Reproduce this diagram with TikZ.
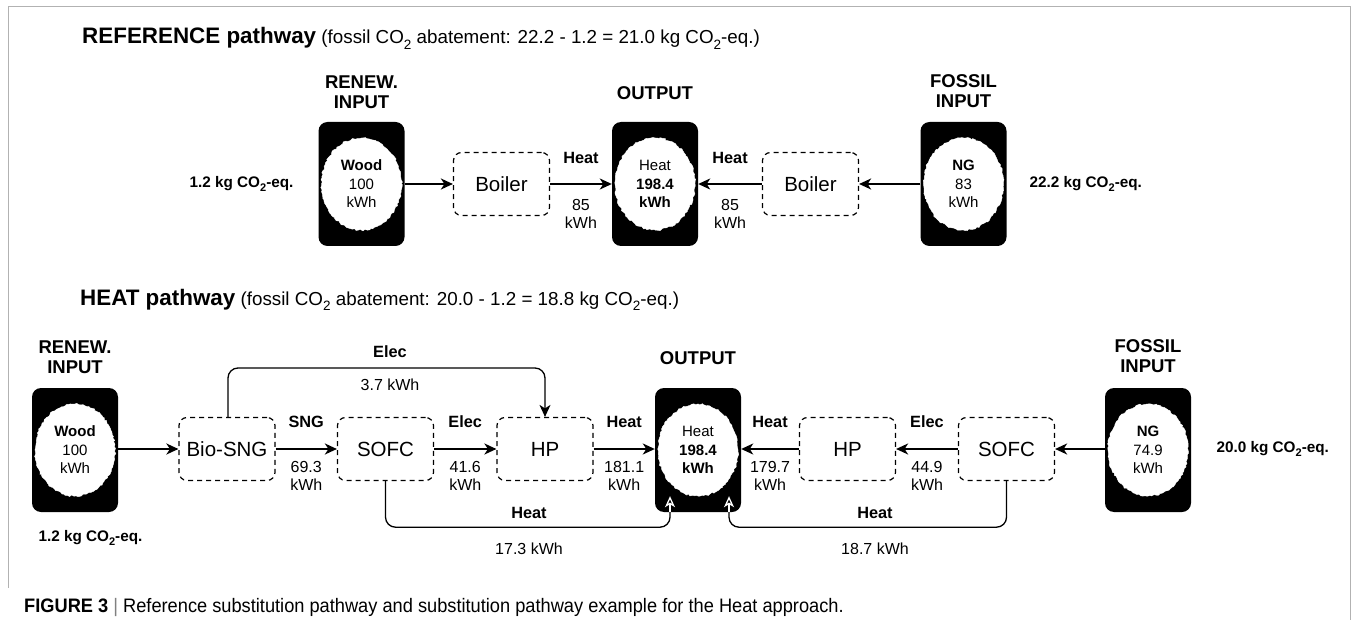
\documentclass[tikz,border=0pt]{standalone}
\usepackage{fontspec}
\setmainfont{Liberation Sans}
\usepackage{graphicx}
\usetikzlibrary{shapes.geometric,arrows.meta,calc,decorations.pathmorphing}
\newcommand{\sbt}[1]{\raisebox{-0.28em}{\scalebox{0.72}{#1}}}
\begin{document}
\begin{tikzpicture}[x=1pt,y=-1pt,
  blk/.style={rectangle, rounded corners=9pt, fill=black, minimum width=86pt, minimum height=124pt, inner sep=0pt},
  ell/.style={ellipse, fill=white, draw=white, minimum width=80pt, minimum height=92pt, inner sep=0pt, align=center,
    font=\fontsize{15}{18.5}\selectfont, decorate, decoration={random steps,segment length=2pt,amplitude=0.9pt}},
  dbox/.style={rectangle, rounded corners=8pt, draw, dash pattern=on 5pt off 4pt, line width=1.2pt,
    minimum width=96pt, minimum height=63pt, inner sep=0pt, font=\fontsize{20.5}{24}\selectfont},
  hdr/.style={align=center, font=\fontsize{18.5}{20}\selectfont\bfseries},
  tip/.style={-{Stealth[length=12pt,width=11pt,inset=3.5pt]}},
  flow/.style={line width=1.8pt, tip},
  side/.style={line width=1.3pt, rounded corners=10pt},
  wht/.style={white, line width=1.3pt, -{Stealth[open,length=11pt,width=10pt,inset=3pt]}},
  lbl/.style={font=\fontsize{16.3}{18}\selectfont\bfseries},
  num/.style={font=\fontsize{16}{18}\selectfont, align=center},
  emis/.style={font=\fontsize{15.3}{17}\selectfont\bfseries},
  ttl/.style={anchor=base west, inner sep=0pt}
]
\useasboundingbox (0,0) rectangle (1356,620);
% frame
\draw[gray!60, line width=1pt] (8,588) -- (8,7) -- (1350,7) -- (1350,620);

% ---------- REFERENCE pathway ----------
\node[ttl] (t1) at (82,44) {{\fontsize{22.4}{24}\selectfont\bfseries REFERENCE pathway}{\fontsize{18.8}{22}\selectfont~(fossil CO\sbt{2} abatement: 22.2 - 1.2 = 21.0 kg CO\sbt{2}-eq.)}};

\node[blk] (ren1) at (361.5,184) {};
\node[ell] (ren1e) at (ren1) {\textbf{Wood}\\100\\kWh};
\node[hdr] (ren1h) at (361.5,92) {RENEW.\\INPUT};
\node[dbox] (boil1) at (501.5,184) {Boiler};
\node[blk] (out1) at (655,184) {};
\node[ell] (out1e) at (out1) {Heat\\\textbf{198.4}\\\textbf{kWh}};
\node[hdr] (out1h) at (655,93) {OUTPUT};
\node[dbox] (boil2) at (810.5,184) {Boiler};
\node[blk] (fos1) at (963.5,184) {};
\node[ell] (fos1e) at (fos1) {\textbf{NG}\\83\\kWh};
\node[hdr] (fos1h) at (963.5,91) {FOSSIL\\INPUT};
\node[emis, anchor=east] (em1) at (297,184) {1.2 kg CO\sbt{2}-eq.};
\node[emis, anchor=west] (em2) at (1026,184) {22.2 kg CO\sbt{2}-eq.};

\draw[flow] (ren1.east) -- (boil1.west);
\draw[flow] (boil1.east) -- (out1.west)
  node[lbl, midway, yshift=26pt] {Heat}
  node[num, midway, yshift=-30pt] {85\\kWh};
\draw[flow] (fos1.west) -- (boil2.east);
\draw[flow] (boil2.west) -- (out1.east)
  node[lbl, midway, yshift=26pt] {Heat}
  node[num, midway, yshift=-30pt] {85\\kWh};

% ---------- HEAT pathway ----------
\node[ttl] (t2) at (80,305) {{\fontsize{22.4}{24}\selectfont\bfseries HEAT pathway}{\fontsize{18.8}{22}\selectfont~(fossil CO\sbt{2} abatement: 20.0 - 1.2 = 18.8 kg CO\sbt{2}-eq.)}};

\node[blk] (ren2) at (75,450) {};
\node[ell] (ren2e) at (ren2) {\textbf{Wood}\\100\\kWh};
\node[hdr] (ren2h) at (75,357) {RENEW.\\INPUT};
\node[dbox] (bio) at (227,449) {Bio-SNG};
\node[dbox] (sofc1) at (385.5,449) {SOFC};
\node[dbox] (hp1) at (545,449) {HP};
\node[blk] (out2) at (698,450) {};
\node[ell] (out2e) at (out2) {Heat\\\textbf{198.4}\\\textbf{kWh}};
\node[hdr] (out2h) at (698,358) {OUTPUT};
\node[dbox] (hp2) at (847.5,449) {HP};
\node[dbox] (sofc2) at (1006.5,449) {SOFC};
\node[blk] (fos2) at (1148,450) {};
\node[ell] (fos2e) at (fos2) {\textbf{NG}\\74.9\\kWh};
\node[hdr] (fos2h) at (1148,356) {FOSSIL\\INPUT};
\node[emis, anchor=west] (em3) at (35,538) {1.2 kg CO\sbt{2}-eq.};
\node[emis, anchor=west] (em4) at (1213,449) {20.0 kg CO\sbt{2}-eq.};

\draw[flow] (ren2.east |- bio.west) -- (bio.west);
\draw[flow] (bio.east) -- (sofc1.west)
  node[lbl, midway, yshift=27pt] {SNG}
  node[num, midway, yshift=-27pt] {69.3\\kWh};
\draw[flow] (sofc1.east) -- (hp1.west)
  node[lbl, midway, yshift=27pt] {Elec}
  node[num, midway, yshift=-27pt] {41.6\\kWh};
\draw[flow] (hp1.east) -- (out2.west |- hp1.east)
  node[lbl, midway, yshift=27pt] {Heat}
  node[num, midway, yshift=-27pt] {181.1\\kWh};
\draw[flow] (fos2.west |- sofc2.east) -- (sofc2.east);
\draw[flow] (sofc2.west) -- (hp2.east)
  node[lbl, midway, yshift=27pt] {Elec}
  node[num, midway, yshift=-27pt] {44.9\\kWh};
\draw[flow] (hp2.west) -- (out2.east |- hp2.west)
  node[lbl, midway, yshift=27pt] {Heat}
  node[num, midway, yshift=-27pt] {179.7\\kWh};

% Elec bypass (top)
\coordinate (etop) at (386,368);
\draw[side, tip] ($(bio.north)+(1,0)$) |- (etop) -| (hp1.north);
\node[lbl] (elab) at (390,352) {Elec};
\node[num] (enum) at (390,385) {3.7 kWh};

% Heat bypasses (bottom)
\coordinate (hl) at ($(out2.south)+(-28,0)$);
\coordinate (hr) at ($(out2.south)+(31,0)$);
\draw[side] (sofc1.south) |- ($(hl)+(0,15)$) -- (hl);
\draw[wht] (hl) -- ++(0,-16);
\draw[side] (sofc2.south) |- ($(hr)+(0,15)$) -- (hr);
\draw[wht] (hr) -- ++(0,-16);
\node[lbl] (hlab1) at (529,513) {Heat};
\node[num] (hnum1) at (529,549) {17.3 kWh};
\node[lbl] (hlab2) at (875,513) {Heat};
\node[num] (hnum2) at (875,549) {18.7 kWh};

% caption
\node[ttl] (cap) at (24,612) {\scalebox{0.935}[1]{\fontsize{19.5}{24}\selectfont\textbf{FIGURE 3} {\color{gray}|} Reference substitution pathway and substitution pathway example for the Heat approach.}};
\end{tikzpicture}
\end{document}
